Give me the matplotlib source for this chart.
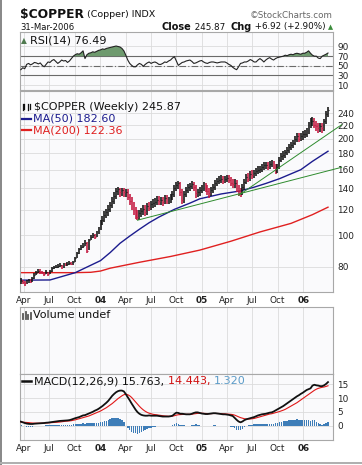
import numpy as np
import pandas as pd
import matplotlib
matplotlib.use("Agg")
import matplotlib.pyplot as plt
from matplotlib.lines import Line2D
from matplotlib.patches import Rectangle
from matplotlib.ticker import FixedLocator, FixedFormatter, NullLocator

# ---------------- data ----------------
weeks = pd.date_range("2003-03-21", "2006-03-31", freq="W-FRI")

closes = [72.0, 71.5, 71.0, 71.8, 72.5, 72.0, 73.5, 75.5, 76.5, 77.5,
          77.0, 76.5, 76.0, 77.0, 75.8, 77.5, 79.0, 79.5, 80.0, 80.5,
          81.0, 79.5, 81.5, 81.0, 81.5, 82.0, 81.5, 82.5, 85.0, 88.0,
          90.5, 92.0, 93.0, 95.0, 89.5, 97.0, 99.0, 100.0, 99.0, 102.0,
          105.0, 110.0, 112.0, 116.0, 118.0, 121.0, 124.0, 128.0, 133.0, 137.0,
          139.0, 136.0, 138.0, 136.0, 136.5, 132.0, 128.0, 124.0, 120.0, 116.0,
          114.0, 117.0, 119.0, 121.0, 118.0, 123.0, 122.0, 125.0, 126.0, 127.0,
          129.0, 128.0, 129.0, 127.0, 131.0, 128.0, 129.0, 131.0, 134.0, 140.0,
          143.0, 145.0, 136.0, 129.0, 134.0, 138.0, 141.0, 142.0, 144.0, 141.0,
          135.0, 136.0, 138.0, 140.0, 143.0, 140.0, 137.0, 135.0, 138.0, 141.0,
          146.0, 148.0, 149.0, 150.0, 148.0, 150.0, 151.0, 149.0, 146.0, 144.0,
          146.0, 140.0, 137.0, 136.0, 141.0, 147.0, 152.0, 150.0, 155.0, 154.0,
          156.0, 158.0, 160.0, 161.0, 163.0, 165.0, 166.0, 163.0, 167.0, 168.0,
          164.0, 159.0, 163.0, 172.0, 176.0, 178.0, 181.0, 184.0, 188.0, 191.0,
          194.0, 199.0, 204.0, 200.0, 203.0, 206.0, 207.0, 210.0, 220.0, 226.0,
          227.0, 221.0, 218.0, 215.0, 218.0, 215.0, 226.0, 238.95, 245.87]

highs = [73.5, 72.8, 72.3, 72.6, 73.4, 73.2, 74.2, 76.2, 77.4, 78.6,
         78.4, 77.6, 77.0, 77.8, 77.2, 78.2, 79.8, 80.6, 81.2, 81.6,
         82.0, 81.2, 82.3, 82.2, 82.5, 83.0, 82.8, 83.4, 85.8, 88.8,
         91.4, 93.2, 95.0, 96.5, 95.2, 97.8, 100.2, 101.5, 101.2, 103.0,
         106.5, 112.0, 115.0, 118.8, 121.2, 124.0, 127.0, 131.2, 136.0, 140.5,
         141.5, 140.8, 140.8, 140.5, 139.8, 139.0, 134.8, 131.4, 127.0, 122.8,
         120.0, 120.2, 122.0, 124.4, 124.0, 126.0, 126.6, 128.0, 129.8, 130.6,
         132.4, 132.4, 132.0, 131.8, 133.8, 133.2, 132.0, 134.0, 137.0, 143.0,
         146.5, 147.8, 147.0, 139.0, 137.5, 141.2, 144.2, 145.8, 147.4, 147.0,
         143.6, 139.6, 141.0, 143.2, 146.2, 146.0, 143.0, 140.2, 141.0, 144.0,
         149.0, 151.2, 152.6, 153.6, 153.0, 153.2, 154.4, 154.0, 152.0, 149.2,
         149.2, 148.4, 143.2, 140.8, 144.2, 150.0, 155.2, 156.4, 158.0, 159.2,
         159.6, 161.6, 163.8, 164.8, 166.6, 168.8, 169.6, 169.2, 170.4, 171.8,
         170.6, 167.2, 166.4, 175.4, 179.8, 182.4, 184.8, 188.0, 191.8, 195.4,
         198.4, 203.0, 208.4, 208.8, 207.4, 210.4, 213.0, 215.2, 225.0, 232.0,
         234.0, 232.0, 227.2, 223.4, 224.0, 223.2, 230.8, 243.6, 251.0]

lows = [70.5, 70.8, 69.8, 70.6, 71.2, 71.0, 71.8, 73.4, 75.2, 76.3,
        76.1, 75.6, 74.8, 75.6, 75.0, 75.8, 77.2, 78.5, 79.0, 79.4,
        79.8, 78.6, 79.4, 80.2, 80.4, 80.8, 80.7, 81.2, 82.4, 84.8,
        87.6, 90.0, 91.5, 92.8, 88.0, 89.8, 96.5, 98.2, 97.8, 98.8,
        100.8, 103.6, 108.0, 110.2, 113.6, 115.0, 118.2, 121.8, 125.6, 130.0,
        133.4, 132.0, 132.2, 131.4, 131.8, 128.6, 124.6, 120.0, 115.8, 112.6,
        111.4, 112.0, 114.2, 115.8, 115.0, 115.8, 118.8, 119.6, 122.0, 122.8,
        124.0, 124.4, 124.6, 123.6, 124.8, 125.0, 125.0, 126.0, 128.4, 131.8,
        137.0, 139.6, 132.6, 124.8, 126.4, 131.4, 135.0, 137.6, 139.0, 137.8,
        131.0, 131.4, 133.0, 135.4, 137.0, 136.8, 133.6, 131.0, 132.4, 135.2,
        138.6, 142.8, 144.4, 145.4, 144.6, 145.0, 146.6, 145.8, 142.6, 140.0,
        140.4, 136.6, 133.0, 132.0, 133.2, 138.8, 144.6, 146.6, 147.4, 149.8,
        150.4, 152.6, 154.8, 156.2, 157.8, 159.6, 160.8, 159.4, 160.6, 162.8,
        160.4, 155.6, 156.4, 160.8, 168.6, 172.0, 173.8, 177.2, 180.4, 184.0,
        187.2, 190.4, 195.2, 194.8, 196.0, 198.6, 201.0, 202.4, 206.0, 215.6,
        219.2, 215.6, 211.0, 208.6, 209.4, 208.0, 210.8, 221.2, 234.0]

ma50_dates = ["2003-03-21", "2003-07-04", "2003-10-03", "2004-01-02", "2004-02-06",
              "2004-03-12", "2004-04-16", "2004-05-21", "2004-06-25", "2004-07-30",
              "2004-09-24", "2004-11-19", "2004-12-24", "2005-03-11", "2005-05-20",
              "2005-07-08", "2005-08-19", "2005-10-07", "2005-12-23", "2006-02-03",
              "2006-03-31"]
ma50_vals = [72.6, 72.7, 76.6, 83.5, 88.5, 94.5, 99.5, 104.5, 109.5, 114.0,
             120.5, 126.0, 129.9, 134.5, 137.5, 141.2, 145.0, 150.0, 160.0, 169.9,
             182.6]

ma200_dates = ["2003-03-21", "2003-10-03", "2003-11-28", "2004-01-02", "2004-02-06",
               "2004-05-21", "2004-09-10", "2004-12-24", "2005-04-15", "2005-07-29",
               "2005-11-18", "2006-02-03", "2006-03-31"]
ma200_vals = [76.6, 76.6, 76.8, 77.5, 79.1, 82.5, 86.0, 90.0, 95.9, 102.5,
              109.0, 116.0, 122.36]

trend_lower_dates = ["2004-05-14", "2006-05-19"]
trend_lower_vals = [111.5, 162.8]
trend_upper_dates = ["2005-05-13", "2006-05-19"]
trend_upper_vals = [133.2, 220.7]

rsi = [42, 46, 44, 53, 55, 52, 54, 57, 56, 54,
       56, 51, 48, 53, 58, 57, 61, 63, 59, 55,
       58, 62, 60, 61, 57, 60, 65, 70, 73, 75,
       74, 77, 81, 65, 73, 76, 77, 79, 78, 80,
       82, 83, 85, 84, 86, 87, 88, 89, 90, 91,
       90, 89, 86, 81, 72, 62, 55, 51, 48, 48,
       52, 55, 53, 49, 53, 56, 58, 55, 57, 58,
       56, 53, 53, 55, 58, 57, 60, 62, 66, 69,
       60, 51, 54, 57, 58, 60, 61, 62, 59, 55,
       56, 58, 60, 61, 58, 56, 55, 57, 58, 58,
       57, 56, 57, 58, 58, 58, 56, 53, 51, 47,
       44, 42, 48, 55, 56, 58, 58, 60, 63, 61,
       58, 58, 62, 65, 62, 58, 62, 65, 67, 64,
       62, 65, 67, 68, 69, 70, 72, 71, 73, 74,
       73, 75, 76, 75, 74, 76, 76, 78, 81, 76,
       72, 70, 70, 66, 65, 70, 72, 74, 76.49]

macd = [1.45, 1.2, 0.95, 0.75, 0.65, 0.6, 0.6, 0.7, 0.75, 0.8,
        0.85, 0.9, 0.95, 1.05, 1.1, 1.2, 1.3, 1.4, 1.5, 1.6,
        1.7, 1.75, 1.8, 1.85, 1.9, 2.0, 2.2, 2.45, 2.7, 2.9,
        3.1, 3.4, 3.7, 3.8, 4.1, 4.4, 4.7, 5.0, 5.4, 5.7,
        6.1, 6.6, 7.1, 7.7, 8.3, 9.0, 9.9, 10.8, 11.5, 12.1,
        12.5, 12.7, 12.7, 12.4, 11.4, 10.3, 9.2, 8.0, 6.9, 5.8,
        4.9, 4.3, 3.9, 3.7, 3.6, 3.6, 3.7, 3.6, 3.6, 3.6,
        3.6, 3.5, 3.4, 3.3, 3.3, 3.3, 3.3, 3.4, 3.6, 4.2,
        4.7, 4.6, 4.3, 4.3, 4.2, 4.1, 4.1, 4.1, 4.3, 4.6,
        4.8, 4.8, 4.6, 4.4, 4.3, 4.2, 4.2, 4.3, 4.4, 4.5,
        4.5, 4.4, 4.3, 4.2, 4.1, 4.1, 4.0, 3.9, 3.7, 3.5,
        2.8, 2.1, 1.5, 1.2, 1.5, 2.0, 2.3, 2.5, 2.7, 2.9,
        3.1, 3.4, 3.7, 3.9, 4.1, 4.2, 4.3, 4.5, 4.7, 4.8,
        5.1, 5.5, 5.9, 6.3, 6.7, 7.1, 7.6, 8.1, 8.6, 9.1,
        9.6, 10.1, 10.6, 11.0, 11.5, 11.9, 12.4, 12.9, 13.2, 13.5,
        14.5, 14.8, 14.6, 14.5, 14.3, 14.3, 14.6, 15.1, 15.763]

signal = [1.3, 1.25, 1.2, 1.15, 1.1, 1.0, 0.95, 0.9, 0.9, 0.9,
          0.9, 0.9, 0.9, 0.95, 1.0, 1.05, 1.1, 1.15, 1.2, 1.25,
          1.3, 1.4, 1.5, 1.6, 1.65, 1.7, 1.8, 1.95, 2.1, 2.3,
          2.5, 2.7, 2.9, 3.1, 3.3, 3.5, 3.8, 4.1, 4.4, 4.7,
          5.0, 5.3, 5.7, 6.1, 6.5, 7.0, 7.5, 8.0, 8.6, 9.2,
          9.8, 10.3, 10.8, 11.2, 11.4, 11.2, 10.8, 10.2, 9.4, 8.6,
          7.8, 7.0, 6.3, 5.7, 5.2, 4.8, 4.5, 4.3, 4.1, 4.0,
          3.9, 3.8, 3.7, 3.6, 3.5, 3.45, 3.4, 3.4, 3.45, 3.6,
          3.8, 3.95, 4.0, 4.05, 4.1, 4.1, 4.1, 4.1, 4.15, 4.25,
          4.35, 4.45, 4.5, 4.5, 4.45, 4.4, 4.35, 4.35, 4.35, 4.4,
          4.4, 4.4, 4.4, 4.35, 4.3, 4.25, 4.2, 4.15, 4.1, 4.0,
          3.8, 3.5, 3.2, 2.9, 2.7, 2.5, 2.4, 2.4, 2.4, 2.5,
          2.6, 2.8, 3.0, 3.2, 3.4, 3.6, 3.8, 4.0, 4.2, 4.3,
          4.5, 4.7, 4.9, 5.1, 5.35, 5.6, 5.9, 6.3, 6.7, 7.1,
          7.5, 7.9, 8.3, 8.8, 9.3, 9.8, 10.3, 10.8, 11.3, 11.8,
          12.3, 12.8, 13.2, 13.5, 13.7, 13.9, 14.0, 14.2, 14.443]

tick_dates = ["2003-04-01", "2003-07-01", "2003-10-01", "2004-01-01",
              "2004-04-01", "2004-07-01", "2004-10-01", "2005-01-01",
              "2005-04-01", "2005-07-01", "2005-10-01", "2006-01-01"]
tick_labels = ["Apr", "Jul", "Oct", "04", "Apr", "Jul", "Oct", "05",
               "Apr", "Jul", "Oct", "06"]
price_ticks = [80, 100, 120, 140, 160, 180, 200, 220, 240]
rsi_ticks = [10, 30, 50, 70, 90]
macd_ticks = [0, 5, 10, 15]

assert len(weeks) == len(closes) == len(highs) == len(lows) == len(rsi) == len(macd) == len(signal)

# ---------------- figure ----------------
W, H = 362, 465
fig = plt.figure(figsize=(W / 100, H / 100), dpi=100)
fig.patch.set_facecolor("white")

def axes_px(x0, y0, x1, y1):
    return fig.add_axes([x0 / W, 1 - y1 / H, (x1 - x0) / W, (y1 - y0) / H])

X0, X1 = 20, 333
ax_rsi = axes_px(X0, 32, X1, 90)
ax_p = axes_px(X0, 91, X1, 292)
ax_v = axes_px(X0, 307, X1, 374)
ax_m = axes_px(X0, 374, X1, 440)

xlim = (pd.Timestamp("2003-03-18"), pd.Timestamp("2006-04-18"))
tds = pd.to_datetime(tick_dates)
GRID = "#DCDCDC"
for ax in (ax_rsi, ax_p, ax_v, ax_m):
    ax.set_facecolor("#FAFAFC")
    for s in ax.spines.values():
        s.set_color("#A8A8A8")
        s.set_linewidth(0.8)
    ax.set_xlim(*xlim)
    ax.set_xticks(tds)
    ax.xaxis.grid(True, color=GRID, lw=0.6)
    ax.yaxis.grid(True, color=GRID, lw=0.6)
    ax.set_axisbelow(True)
    ax.yaxis.tick_right()
    ax.tick_params(length=0, labelsize=6.4, pad=3, colors="#222222")
    ax.tick_params(axis="x", labelbottom=False)

def set_xlabels(ax):
    ax.tick_params(axis="x", labelbottom=True, pad=3, labelsize=6.4)
    ax.set_xticklabels(tick_labels)
    for lab in ax.get_xticklabels():
        if lab.get_text().isdigit():
            lab.set_fontweight("bold")

# ---- RSI ----
rsi_a = np.array(rsi, dtype=float)
ax_rsi.set_ylim(0, 120)
ax_rsi.yaxis.set_major_locator(FixedLocator(rsi_ticks))
ax_rsi.set_yticklabels([str(t) for t in rsi_ticks])
ax_rsi.fill_between(weeks, rsi_a, 70, where=rsi_a > 70, interpolate=True,
                    color="#6E9A6E", lw=0, zorder=2)
ax_rsi.axhline(70, color="#6A6A6A", lw=0.8, zorder=1.5)
ax_rsi.axhline(30, color="#6A6A6A", lw=0.8, zorder=1.5)
ax_rsi.axhline(50, color="#6A6A6A", lw=0.8, ls=(0, (6, 2, 1, 2)), zorder=1.5)
ax_rsi.plot(weeks, rsi_a, color="#222222", lw=0.8, zorder=3)

# ---- Price ----
ax_p.set_yscale("log")
ax_p.set_ylim(66.7, 281)
ax_p.yaxis.set_major_locator(FixedLocator(price_ticks))
ax_p.yaxis.set_major_formatter(FixedFormatter([str(t) for t in price_ticks]))
ax_p.yaxis.set_minor_locator(NullLocator())
cl = np.array(closes)
prev = np.concatenate([[cl[0] - 1], cl[:-1]])
cols = np.where(cl >= prev, "#111111", "#C4163E")
ax_p.vlines(weeks, lows, highs, colors=cols, lw=1.15, zorder=3)
ax_p.hlines(cl, weeks, weeks + pd.Timedelta(days=3), colors=cols, lw=0.8, zorder=3)
ax_p.plot(pd.to_datetime(ma200_dates), ma200_vals, color="#E02020", lw=1.0, zorder=2)
ax_p.plot(pd.to_datetime(ma50_dates), ma50_vals, color="#1C1C8E", lw=1.0, zorder=2)
ax_p.plot(pd.to_datetime(trend_lower_dates), trend_lower_vals, color="#2E8B2E",
          lw=0.7, zorder=4, clip_on=False)
ax_p.plot(pd.to_datetime(trend_upper_dates), trend_upper_vals, color="#2E8B2E",
          lw=0.7, zorder=4, clip_on=False)
ax_p.set_xlim(*xlim)
set_xlabels(ax_p)

# ---- Volume (empty) ----
ax_v.set_yticks([])
ax_v.set_ylim(0, 1)

# ---- MACD ----
mac = np.array(macd)
sig = np.array(signal)
hist = mac - sig
ax_m.set_ylim(-5.2, 18.7)
ax_m.yaxis.set_major_locator(FixedLocator(macd_ticks))
ax_m.set_yticklabels([str(t) for t in macd_ticks])
ax_m.bar(weeks, hist, width=5.5, color="#3E7DB8", lw=0, zorder=2)
ax_m.plot(weeks, sig, color="#E01818", lw=0.8, zorder=3)
ax_m.plot(weeks, mac, color="#111111", lw=1.3, zorder=4)
ax_m.set_xlim(*xlim)
set_xlabels(ax_m)

# ---------------- header texts & legends ----------------
def ft(x, y, s, **kw):
    kw.setdefault("va", "center")
    return fig.text(x / W, 1 - y / H, s, **kw)

def fl(x0, x1, y, **kw):
    fig.add_artist(Line2D([x0 / W, x1 / W], [1 - y / H, 1 - y / H], **kw))

renderer = fig.canvas.get_renderer()

def seq(x, y, pieces, gap=0.0, right=None):
    texts = []
    for s, kw in pieces:
        texts.append(ft(0, y, s, **kw))
    widths = [t.get_window_extent(renderer).width for t in texts]
    if right is not None:
        x = right - sum(widths) - gap * (len(widths) - 1)
    for t, w in zip(texts, widths):
        t.set_x(x / W)
        x += w + gap
    return x

seq(20, 14.5, [("$COPPER", dict(fontsize=8.8, fontweight="bold", color="#111")),
               (" (Copper) INDX", dict(fontsize=6.8, color="#111"))])
ft(333, 15, "\u00a9StockCharts.com", fontsize=6.3, color="#666666", ha="right")
ft(20, 27, "31-Mar-2006", fontsize=6.1, color="#111")
seq(0, 27, [("Close", dict(fontsize=7.0, fontweight="bold", color="#111")),
            (" 245.87  ", dict(fontsize=6.3, color="#111")),
            ("Chg", dict(fontsize=7.0, fontweight="bold", color="#111")),
            (" +6.92 (+2.90%) ", dict(fontsize=6.3, color="#111")),
            ("\u25b2", dict(fontsize=4.8, color="#3C8C3C"))], right=333)

# RSI label
ft(21, 40.7, "\u25b2", fontsize=5.5, color="#4F7A4F")
ft(30, 40.7, "RSI(14) 76.49", fontsize=8.0, color="#111")

# Price legend
for k, xx in enumerate([22.5, 24.5, 27.5, 29.5]):
    fig.add_artist(Line2D([xx / W, xx / W], [1 - (103.5 + (k % 2)) / H, 1 - (110 - (k % 2)) / H],
                          color="#111", lw=0.9))
ft(34, 106.7, "$COPPER (Weekly) 245.87", fontsize=8.0, color="#111")
fl(22, 31, 118.7, color="#1C1C8E", lw=1.6)
ft(33, 118.7, "MA(50) 182.60", fontsize=8.0, color="#1C1C8E")
fl(22, 31, 130.3, color="#E02020", lw=1.6)
ft(33, 130.3, "MA(200) 122.36", fontsize=8.0, color="#E02020")

# Volume label
for xx, h in [(23, 5), (25.5, 7), (28, 4), (30.5, 6)]:
    fig.add_artist(Line2D([xx / W, xx / W], [1 - 319 / H, 1 - (319 - h) / H],
                          color="#555", lw=1.3))
ft(33, 315, "Volume undef", fontsize=8.0, color="#111")

# MACD label
fl(22, 31, 381, color="#111", lw=1.8)
seq(34, 381, [("MACD(12,26,9) 15.763, ", dict(fontsize=8.0, color="#111")),
              ("14.443, ", dict(fontsize=8.0, color="#D01010")),
              ("1.320", dict(fontsize=8.0, color="#5B9BC8"))])

# outer frame (left and bottom gray edges)
fig.add_artist(Rectangle((0, 0), 2 / W, 1, transform=fig.transFigure,
                         color="#8A8A8A", lw=0))
fig.add_artist(Rectangle((0, 1 - 464 / H), 1, 2 / H, transform=fig.transFigure,
                         color="#B0B0B0", lw=0))

fig.savefig("out.png", dpi=100, facecolor="white")
